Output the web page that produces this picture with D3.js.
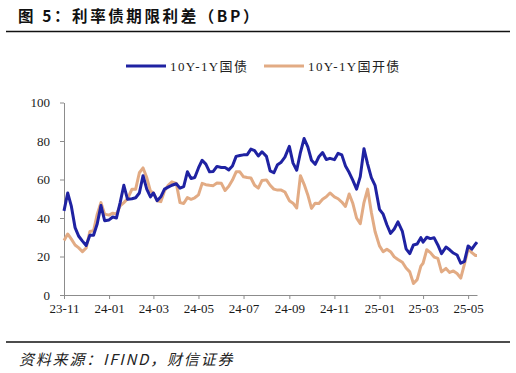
<!DOCTYPE html>
<html>
<head>
<meta charset="utf-8">
<script src="https://cdn.jsdelivr.net/npm/d3@7/dist/d3.min.js"></script>
<style>
    body { margin: 0; background: #fff; }
    svg { display: block; }
    .axis path, .axis line { stroke: #8c8c8c; stroke-width: 1px; }
    .axis text { font-family: "Liberation Serif", "Times New Roman", serif; font-size: 13px; fill: #1a1a1a; }
    .legend text { font-family: "Liberation Serif", "Noto Sans CJK SC", serif; font-size: 13px; fill: #222; letter-spacing: 1.4px; }
</style>
</head>
<body>
<div class="spread"></div>
<script>
// sample dates (1st, 6th, 11th, 16th, 21st, 26th of each month)
var dates = [
    "2023-11-01","2023-11-06","2023-11-11","2023-11-16","2023-11-21","2023-11-26",
    "2023-12-01","2023-12-06","2023-12-11","2023-12-16","2023-12-21","2023-12-26",
    "2024-01-01","2024-01-06","2024-01-11","2024-01-16","2024-01-21","2024-01-26",
    "2024-02-01","2024-02-06","2024-02-11","2024-02-16","2024-02-21","2024-02-26",
    "2024-03-01","2024-03-06","2024-03-11","2024-03-16","2024-03-21","2024-03-26",
    "2024-04-01","2024-04-06","2024-04-11","2024-04-16","2024-04-21","2024-04-26",
    "2024-05-01","2024-05-06","2024-05-11","2024-05-16","2024-05-21","2024-05-26",
    "2024-06-01","2024-06-06","2024-06-11","2024-06-16","2024-06-21","2024-06-26",
    "2024-07-01","2024-07-06","2024-07-11","2024-07-16","2024-07-21","2024-07-26",
    "2024-08-01","2024-08-06","2024-08-11","2024-08-16","2024-08-21","2024-08-26",
    "2024-09-01","2024-09-06","2024-09-11","2024-09-16","2024-09-21","2024-09-26",
    "2024-10-01","2024-10-06","2024-10-11","2024-10-16","2024-10-21","2024-10-26",
    "2024-11-01","2024-11-06","2024-11-11","2024-11-16","2024-11-21","2024-11-26",
    "2024-12-01","2024-12-06","2024-12-11","2024-12-16","2024-12-21","2024-12-26",
    "2025-01-01","2025-01-06","2025-01-11","2025-01-16","2025-01-21","2025-01-26",
    "2025-02-01","2025-02-06","2025-02-11","2025-02-16","2025-02-21","2025-02-26",
    "2025-03-01","2025-03-06","2025-03-11","2025-03-16","2025-03-21","2025-03-26",
    "2025-04-01","2025-04-06","2025-04-11","2025-04-16","2025-04-21","2025-04-26",
    "2025-05-01","2025-05-06","2025-05-11","2025-05-13"
];

// 10Y-1Y 国债 (bp)
var govSpread = [
    43.7, 53, 46, 35, 30.5, 28,
    25.7, 31, 31, 37, 46.5, 38.6,
    39, 40.5, 40, 48, 57, 49.7,
    50, 50.5, 53, 62, 55, 51,
    53, 49, 51, 55, 56, 57,
    57.8, 55.5, 56.3, 64, 60.5, 61,
    66, 70, 68, 64, 64.2, 66.8,
    66.2, 66.2, 65, 67, 72, 72.5,
    72.8, 72.9, 75.8, 75, 72.2, 74.4,
    72, 64.5, 63.5, 67.7, 69, 71.6,
    77.2, 68.5, 64.8, 74, 81.3, 77,
    70, 67.9, 71.8, 74, 70.4, 71,
    70.3, 73.6, 72.8, 67, 63.6, 59.5,
    55, 61.5, 76, 68, 61, 57,
    44.5, 42, 36.5, 32, 34.3, 38,
    33, 24, 21.5, 26, 26.5, 29.8,
    27.5, 30, 29.3, 29.7, 26, 21.5,
    24.9, 23.5, 21.8, 20.8, 16.5, 17.5,
    25.5, 23.8, 26.5, 27.5
];

// 10Y-1Y 国开债 (bp)
var cdbSpread = [
    28.3, 31.7, 29, 26, 24.5, 22.5,
    24.5, 33, 33.4, 42, 48, 42,
    41.5, 42.5, 42, 46.3, 48, 50,
    55, 55, 63.5, 66, 61, 54,
    53, 49, 48.5, 54, 57, 58.8,
    58, 48, 47.5, 50.6, 49.7, 50.5,
    52, 58, 57.3, 57, 56.8, 58.2,
    58, 54.3, 56.5, 59.7, 64, 64,
    61.4, 61, 60.8, 57, 55.5, 59.5,
    59.8, 57, 55, 54.5, 54.5, 53.5,
    49, 47.7, 45.2, 62, 57.5, 52,
    45, 47.7, 47.5, 49.7, 51, 53,
    51, 50, 48.3, 46, 52.5, 47.5,
    40, 37, 48, 55, 43, 33,
    25.5, 22.5, 23.8, 22.5, 19.8, 18.4,
    17, 14, 12, 6, 8, 15,
    16.5, 23.5, 22, 19.7, 19, 12,
    13.8, 11.7, 12.5, 11.2, 8.8, 16,
    24, 22, 20.5, 20.5
];

var seriesNames = ["10Y-1Y国债", "10Y-1Y国开债"];
var seriesColors = ["#1f22a2", "#e2ab84"];
var yTicks = [0, 20, 40, 60, 80, 100];
var xTicks = ["2023-11-01", "2024-01-01", "2024-03-01", "2024-05-01", "2024-07-01",
    "2024-09-01", "2024-11-01", "2025-01-01", "2025-03-01", "2025-05-01"];

var W = 516, H = 373;
var margin = { top: 102.5, right: 39, bottom: 78, left: 64 },
    width = W - margin.left - margin.right,
    height = H - margin.top - margin.bottom;

var parse = d3.timeParse("%Y-%m-%d");

var svg = d3.select(".spread").append("svg")
    .attr("width", W)
    .attr("height", H);

// title + rules
svg.append("text")
    .attr("x", 18)
    .attr("y", 22)
    .style("font-family", "'Noto Sans CJK SC', sans-serif")
    .style("font-weight", "700")
    .style("font-size", "15.5px")
    .style("letter-spacing", "2.6px")
    .attr("fill", "#111")
    .text("图 5：利率债期限利差（BP）");

svg.append("line")
    .attr("x1", 6).attr("x2", 510)
    .attr("y1", 31.5).attr("y2", 31.5)
    .attr("stroke", "#111").attr("stroke-width", 1.6);

svg.append("line")
    .attr("x1", 6).attr("x2", 510)
    .attr("y1", 342).attr("y2", 342)
    .attr("stroke", "#111").attr("stroke-width", 1.6);

svg.append("text")
    .attr("x", 19)
    .attr("y", 365)
    .style("font-family", "'Noto Sans CJK SC', sans-serif")
    .style("font-style", "italic")
    .style("font-size", "15px")
    .style("letter-spacing", "1.8px")
    .attr("fill", "#222")
    .text("资料来源：IFIND，财信证券");

var g = svg.append("g")
    .attr("transform", "translate(" + margin.left + "," + margin.top + ")");

var x = d3.scaleTime()
    .domain([parse(dates[0]), parse(dates[dates.length - 1])])
    .range([0, width]);

var y = d3.scaleLinear()
    .domain([0, 100])
    .range([height, 0]);

var xAxis = d3.axisBottom(x)
    .tickValues(xTicks.map(parse))
    .tickFormat(d3.timeFormat("%y-%m"))
    .tickSizeInner(4)
    .tickSizeOuter(0)
    .tickPadding(5);

var yAxis = d3.axisLeft(y)
    .tickValues(yTicks)
    .tickSizeInner(4)
    .tickSizeOuter(0)
    .tickPadding(10);

g.append("g")
    .attr("class", "x axis")
    .attr("transform", "translate(0," + height + ")")
    .call(xAxis);

g.append("g")
    .attr("class", "y axis")
    .call(yAxis);

var line = d3.line()
    .x(function (d) { return x(d.date); })
    .y(function (d) { return y(d.value); });

var series = [govSpread, cdbSpread].map(function (vals, i) {
    return {
        name: seriesNames[i],
        color: seriesColors[i],
        values: vals.map(function (v, j) { return { date: parse(dates[j]), value: v }; })
    };
});

// orange drawn first so the blue sits on top
g.selectAll(".series")
    .data(series.slice().reverse())
    .enter().append("path")
    .attr("class", "series")
    .attr("fill", "none")
    .attr("stroke", function (d) { return d.color; })
    .attr("stroke-width", 3)
    .attr("stroke-linejoin", "round")
    .attr("d", function (d) { return line(d.values); });

// legend
var legendX = [126, 264];
var legend = svg.selectAll(".legend")
    .data(series)
    .enter().append("g")
    .attr("class", "legend")
    .attr("transform", function (d, i) { return "translate(" + legendX[i] + ",66)"; });

legend.append("line")
    .attr("x1", 0).attr("x2", 40)
    .attr("stroke", function (d) { return d.color; })
    .attr("stroke-width", 3);

legend.append("text")
    .attr("x", 44)
    .attr("y", 4.5)
    .text(function (d) { return d.name; });
</script>
</body>
</html>
